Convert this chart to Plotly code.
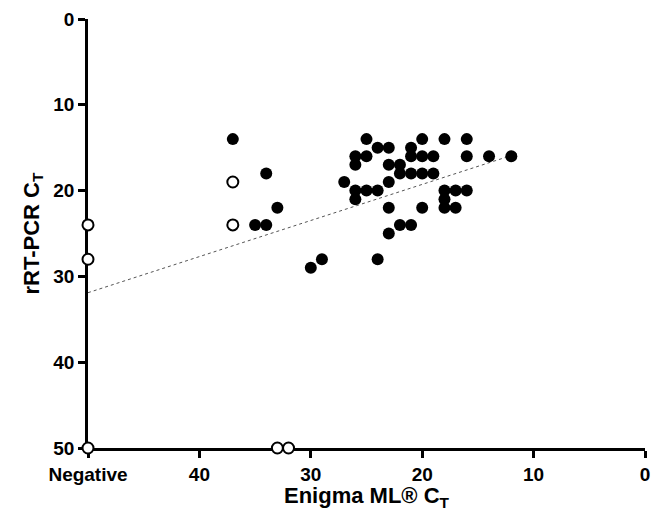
import plotly.graph_objects as go

# Filled points: (Enigma ML CT, rRT-PCR CT)
filled_x = [37, 34, 33, 35, 34,
            25, 20, 18, 16,
            24, 23, 21,
            26, 25, 21, 20, 19, 16, 14, 12,
            26, 23, 22,
            22, 21, 20, 19,
            27, 23,
            26, 25, 24, 18, 17, 16,
            26, 18,
            23, 20, 18, 17,
            22, 21,
            23,
            29, 24,
            30]
filled_y = [14, 18, 22, 24, 24,
            14, 14, 14, 14,
            15, 15, 15,
            16, 16, 16, 16, 16, 16, 16, 16,
            17, 17, 17,
            18, 18, 18, 18,
            19, 19,
            20, 20, 20, 20, 20, 20,
            21, 21,
            22, 22, 22, 22,
            24, 24,
            25,
            28, 28,
            29]

# Open points (Negative plotted at 50)
open_x = [37, 37, 50, 50, 50, 33, 32]
open_y = [19, 24, 24, 28, 50, 50, 50]

# Regression line endpoints
line_x = [50, 11.5]
line_y = [31.9, 15.7]

x_tickvals = [50, 40, 30, 20, 10, 0]
x_ticktext = ["Negative", "40", "30", "20", "10", "0"]
y_tickvals = [0, 10, 20, 30, 40, 50]
y_ticktext = ["0", "10", "20", "30", "40", "50"]

x_title = "Enigma ML® C<sub>T</sub>"
y_title = "rRT-PCR C<sub>T</sub>"

fig = go.Figure()
fig.add_trace(go.Scatter(x=line_x, y=line_y, mode="lines",
                         line=dict(color="#555555", width=1, dash="dot"),
                         cliponaxis=False, hoverinfo="skip"))
fig.add_trace(go.Scatter(x=filled_x, y=filled_y, mode="markers",
                         marker=dict(size=12, color="black", line=dict(width=0)),
                         cliponaxis=False))
fig.add_trace(go.Scatter(x=open_x, y=open_y, mode="markers",
                         marker=dict(size=11, color="white", line=dict(width=2, color="black")),
                         cliponaxis=False))

tick_font = dict(family="Liberation Sans, Arial, sans-serif", size=19, color="black", weight="bold")
title_font = dict(family="Liberation Sans, Arial, sans-serif", size=22, color="black", weight="bold")

axis_common = dict(showgrid=False, zeroline=False, showline=True, linecolor="black", linewidth=2.5,
                   ticks="outside", ticklen=7, tickwidth=2.5, tickcolor="black",
                   tickfont=tick_font, layer="below traces", automargin=False)

fig.update_layout(
    width=660, height=515,
    margin=dict(l=80, r=23, t=11, b=75),
    paper_bgcolor="white", plot_bgcolor="white",
    showlegend=False,
    xaxis=dict(range=[50, 0], tickvals=x_tickvals, ticktext=x_ticktext, **axis_common),
    yaxis=dict(range=[50, 0], tickvals=y_tickvals, ticktext=y_ticktext, **axis_common),
    annotations=[
        dict(text=x_title, xref="paper", yref="paper", x=0.5, y=-0.114,
             xanchor="center", yanchor="middle", showarrow=False, font=title_font),
        dict(text=y_title, xref="paper", yref="paper", x=-0.1005, y=0.5,
             xanchor="center", yanchor="middle", showarrow=False, font=title_font,
             textangle=-90),
    ],
)

fig.write_html("out.html")
